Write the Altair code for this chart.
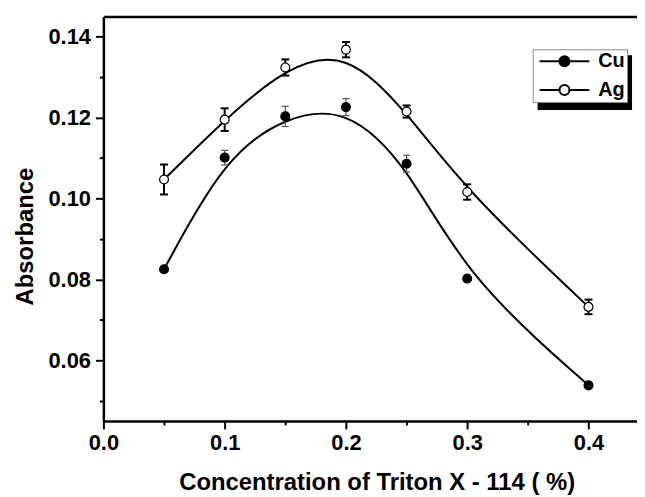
import altair as alt
import pandas as pd

# ---- data ----
conc = [0.05, 0.10, 0.15, 0.20, 0.25, 0.30, 0.40]
cu_abs = [0.0825, 0.1101, 0.1203, 0.1226, 0.1086, 0.0802, 0.0538]
cu_err = [0.0, 0.0018, 0.0025, 0.0021, 0.0021, 0.0, 0.0]
ag_abs = [0.1047, 0.1195, 0.1324, 0.1368, 0.1215, 0.1016, 0.0732]
ag_err = [0.0037, 0.0028, 0.0020, 0.0019, 0.0015, 0.0019, 0.0018]
series_names = ["Cu", "Ag"]
x_ticks = [0.0, 0.05, 0.1, 0.15, 0.2, 0.25, 0.3, 0.35, 0.4]
y_ticks = [0.05, 0.06, 0.07, 0.08, 0.09, 0.10, 0.11, 0.12, 0.13, 0.14]

rows = []
for s, ys, es in (("Cu", cu_abs, cu_err), ("Ag", ag_abs, ag_err)):
    for x, y, e in zip(conc, ys, es):
        rows.append({"series": s, "x": x, "y": y, "err": e, "lo": y - e, "hi": y + e})
df = pd.DataFrame(rows)
eb_cu = df[(df.series == "Cu") & (df.err > 0)]
eb_ag = df[(df.series == "Ag") & (df.err > 0)]

FONT = "Liberation Sans"
xscale = alt.Scale(domain=[0, 0.44], nice=False, zero=False)
yscale = alt.Scale(domain=[0.045, 0.145], nice=False, zero=False)

xax = alt.Axis(
    orient="bottom", values=x_ticks,
    labelExpr="round(datum.value*100) % 10 == 0 ? format(datum.value, '.1f') : ''",
    tickSize={"condition": {"test": "round(datum.value*100) % 10 != 0", "value": 4}, "value": 8},
    tickWidth=2, domainWidth=2.5, labelFontSize=22, labelFontWeight="bold", labelPadding=4,
    labelFlush=False, labelOverlap=False, grid=False,
    title="Concentration of Triton X - 114 ( %)", titleFontSize=24, titleFontWeight="bold",
    titleX=275, titleY=69, titleBaseline="alphabetic", titleAlign="center",
)
top_ax = alt.Axis(orient="top", labels=False, ticks=False, domainWidth=2.5, title=None, grid=False)
yax = alt.Axis(
    values=y_ticks,
    labelExpr="round(datum.value*100) % 2 == 0 ? format(datum.value, '.2f') : ''",
    tickSize={"condition": {"test": "round(datum.value*100) % 2 != 0", "value": 4}, "value": 8},
    tickWidth=2, domainWidth=2.5, labelFontSize=22, labelFontWeight="bold", labelPadding=5,
    labelFlush=False, labelOverlap=False, grid=False,
    title="Absorbance", titleFontSize=24, titleFontWeight="bold",
    titleX=-71, titleY=221, titleBaseline="alphabetic", titleAlign="center", titleAngle=270,
)

# legend glyph: line with a circle, drawn in units of 5 px (symbolSize 100)
LEG_SYMBOL = "M-1,0H3M5,0H9M3,0A1,1,0,1,1,5,0A1,1,0,1,1,3,0Z"

shadow = alt.Chart(pd.DataFrame({"k": [0]})).mark_rect(color="black").encode(
    x=alt.value(437), x2=alt.value(532), y=alt.value(39), y2=alt.value(94)
)

curves = alt.Chart(df).mark_line(interpolate="basis", color="black", strokeWidth=2).encode(
    x=alt.X("x:Q", scale=xscale, axis=top_ax),
    y=alt.Y("y:Q", scale=yscale, axis=yax),
    detail="series:N",
)

def errbars(data, color, width, cap):
    base = alt.Chart(data)
    r = base.mark_rule(color=color, strokeWidth=width).encode(
        x=alt.X("x:Q", scale=xscale, axis=None),
        y=alt.Y("lo:Q", scale=yscale, axis=yax), y2="hi:Q")
    lo = base.mark_tick(orient="horizontal", size=cap, thickness=width, color=color, opacity=1).encode(
        x=alt.X("x:Q", scale=xscale, axis=None),
        y=alt.Y("lo:Q", scale=yscale, axis=yax))
    hi = base.mark_tick(orient="horizontal", size=cap, thickness=width, color=color, opacity=1).encode(
        x=alt.X("x:Q", scale=xscale, axis=None),
        y=alt.Y("hi:Q", scale=yscale, axis=yax))
    return [r, lo, hi]

points = alt.Chart(df).mark_point(shape="circle", filled=True, size=80, stroke="black",
                                  strokeWidth=1.2, opacity=1).encode(
    x=alt.X("x:Q", scale=xscale, axis=xax),
    y=alt.Y("y:Q", scale=yscale, axis=yax),
    fill=alt.Fill("series:N", scale=alt.Scale(domain=series_names, range=["black", "white"]),
                  legend=alt.Legend(title=None, orient="none", legendX=432, legendY=33,
                                    symbolType=LEG_SYMBOL, symbolSize=100, symbolStrokeWidth=2,
                                    symbolStrokeColor="black", labelFont=FONT, labelFontSize=20,
                                    labelFontWeight="bold", labelOffset=44, padding=2, rowPadding=9,
                                    strokeColor="#888", fillColor="white", cornerRadius=0)),
)

chart = alt.layer(
    shadow, curves, *errbars(eb_cu, "#555", 1.2, 7), *errbars(eb_ag, "black", 2, 8), points
).resolve_axis(x="independent").properties(
    width=537, height=407, autosize="none",
    padding={"left": 96, "top": 7, "right": 0, "bottom": 75},
).configure(font=FONT).configure_view(stroke=None).configure_axis(
    labelColor="black", titleColor="black", domainColor="black", tickColor="black",
    labelFont=FONT, titleFont=FONT,
)

chart.save("out.html", embed_options={"renderer": "svg", "actions": False})
